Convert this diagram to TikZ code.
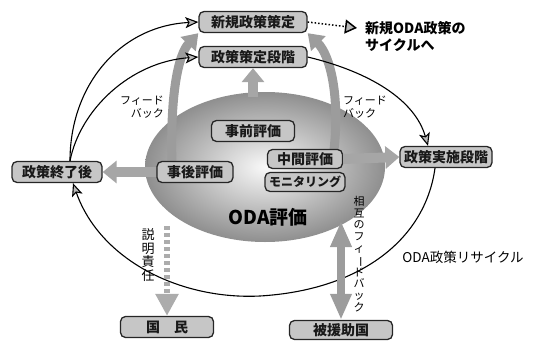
\documentclass[tikz,border=0pt]{standalone}
\usepackage{fontspec}
\usepackage{graphicx}
\setmainfont{Noto Sans CJK JP}
\usetikzlibrary{arrows.meta,shapes.geometric,calc}
\begin{document}
\begin{tikzpicture}[x=1pt,y=-1pt,
 box/.style={draw=black!85, line width=1.3pt, fill=gray!45, rounded corners=5pt,
   font=\fontsize{14}{14}\selectfont\bfseries, inner xsep=4pt, inner ysep=0pt,
   minimum height=21pt, text=black!90},
 loopline/.style={line width=1.1pt, draw=black,
   -{Stealth[length=13pt,width=11pt,inset=3pt,fill=gray!55]}},
 fat/.style={line width=10pt, draw=gray!70, -{Triangle[length=14pt,width=22pt]}},
 fatc/.style={line width=9pt, draw=gray!78, -{Triangle[length=15pt,width=20pt]}},
 lbl/.style={font=\fontsize{11}{13}\selectfont, inner sep=0pt}]
\useasboundingbox (0,0) rectangle (535,340);

% evaluation ellipse
\node[ellipse, minimum width=240pt, minimum height=150pt, shade, shading=radial,
  inner color=gray!5, outer color=gray!88, draw=none] (eval) at (265,167) {};

% outer boxes
\node[box, minimum width=108pt] (new) at (253,22) {新規政策策定};
\node[box, minimum width=108pt] (form) at (253,57) {政策策定段階};
\node[box, minimum width=90pt] (post) at (57,172) {政策終了後};
\node[box, minimum width=88pt] (impl) at (446,157) {政策実施段階};
\node[box, minimum width=93pt, minimum height=21pt] (people) at (167,327) {国\quad 民};
\node[box, minimum width=103pt, minimum height=19pt] (recip) at (341,330) {被援助国};

% thick arrows (under inner boxes)
\draw[fatc] ($(172,164)$) .. controls (170,95) and (178,55) .. (new.south west);
\draw[fatc] ($(334,150)$) .. controls (340,95) and (330,55) .. (new.south east);
\coordinate (upS) at (253,97);
\draw[fat] (upS) -- (form.south);

% inner boxes
\node[box, minimum width=83pt] (pre) at (253,131) {事前評価};
\node[box, minimum width=76pt] (ex) at (195,172) {事後評価};
\node[box, minimum width=75pt, minimum height=19pt] (mid) at (305,159) {中間評価};
\node[box, minimum width=75pt, minimum height=19pt, font=\fontsize{12}{12}\selectfont\bfseries] (mon) at (305,182) {モニタリング};
\node[font=\fontsize{19}{19}\selectfont\bfseries, inner sep=0pt] (odaeval) at (268,217) {ODA評価};

\draw[fat] (ex.west) -- (post.east);
\draw[fat] (mid.east) -- (impl.west);

% texts
\node[font=\fontsize{14}{17}\selectfont\bfseries, align=left, anchor=west, inner sep=0pt] (nextc) at (365,36) {新規ODA政策の\\サイクルへ};
\node[lbl, align=right, anchor=east] (fbL) at (164,107) {フィード\\バック};
\node[lbl, align=left, anchor=west] (fbR) at (343,107) {フィード\\バック};
\node[font=\fontsize{13.5}{14}\selectfont, inner sep=0pt] (recyc) at (463,257) {ODA政策リサイクル};
\node[font=\fontsize{13}{13.8}\selectfont, align=center, inner sep=0pt] (acc) at (148,255) {説\\明\\責\\任};
\node[font=\fontsize{11}{11.8}\selectfont, align=center, inner sep=0pt] (mutual) at (359,254)
  {相\\互\\の\\フ\\ィ\\\rotatebox[origin=c]{-90}{ー}\\ド\\バ\\ッ\\ク};

% recycle loop
\draw[loopline] ($(post.north)+(13,0)$) .. controls (70,85) and (120,26) .. (new.west);
\draw[loopline] ($(post.north)+(13,0)$) .. controls (80,110) and (130,62) .. (form.west);
\draw[loopline] (form.east) .. controls (370,72) and (415,100) .. ($(impl.north)+(-18,0)$);
\draw[loopline] ($(impl.south)+(-11,0)$) .. controls (425,240) and (360,290) .. (260,296)
   .. controls (180,300) and (100,260) .. ($(post.south)+(16,0)$);

% dotted arrow to next cycle
\draw[dotted, line width=1.5pt, -{Triangle[length=12pt,width=14pt,fill=gray!55]}]
  (new.east) -- ($(nextc.west)+(-8,-8)$);

% accountability (dashed) arrow
\coordinate (dA) at (167,226);
\draw[line width=6pt, draw=gray!65, dash pattern=on 4pt off 3pt,
  -{Triangle[length=22pt,width=22pt]}] (dA) -- (people.north);

% mutual feedback double arrow
\coordinate (dT) at (341,221);
\draw[line width=8pt, draw=gray!78,
  {Triangle[length=26pt,width=20pt]}-{Triangle[length=26pt,width=20pt]}] (dT) -- (recip.north);
\end{tikzpicture}
\end{document}
